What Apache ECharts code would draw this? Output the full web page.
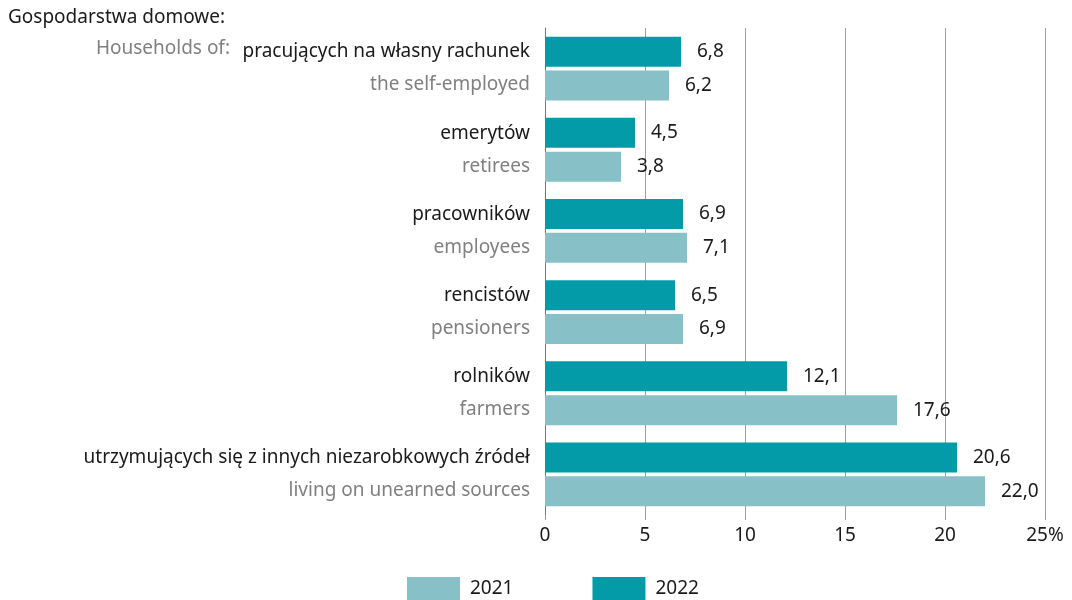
<!DOCTYPE html>
<html>
<head>
<meta charset="utf-8">
<script src="https://cdn.jsdelivr.net/npm/echarts@6/dist/echarts.min.js"></script>
<style>
  html, body { margin: 0; padding: 0; background: #fff; }
  #main { width: 1072px; height: 600px; }
</style>
</head>
<body>
<div id="main"></div>
<script>
const labelsPl = ['pracujących na własny rachunek', 'emerytów', 'pracowników', 'rencistów', 'rolników', 'utrzymujących się z innych niezarobkowych źródeł'];
const labelsEn = ['the self-employed', 'retirees', 'employees', 'pensioners', 'farmers', 'living on unearned sources'];
const values2022 = [6.8, 4.5, 6.9, 6.5, 12.1, 20.6];
const values2021 = [6.2, 3.8, 7.1, 6.9, 17.6, 22.0];
const xTicks = [0, 5, 10, 15, 20, 25];

const FONT = 'Noto Sans';
const FS = 19;
const chart = echarts.init(document.getElementById('main'));

const valueLabel = {
    show: true,
    position: 'right',
    distance: 16,
    color: '#1a1a1a',
    fontSize: FS,
    fontFamily: FONT,
    formatter: p => p.value.toFixed(1).replace('.', ',')
};

const option = {
    animation: false,
    textStyle: { fontFamily: FONT },
    graphic: [
        { type: 'text', left: 8, top: 8, style: { text: 'Gospodarstwa domowe:', fill: '#1a1a1a', font: FS + 'px "Noto Sans"' } },
        { type: 'text', right: 842, top: 39, style: { text: 'Households of:', fill: '#808080', font: FS + 'px "Noto Sans"' } }
    ],
    legend: {
        data: ['2021', '2022'],
        left: 407,
        top: 577,
        padding: 0,
        itemWidth: 53,
        itemHeight: 23,
        itemGap: 79,
        icon: 'rect',
        textStyle: { color: '#1a1a1a', fontSize: FS, padding: [0, 0, 0, 5] }
    },
    grid: { left: 545, right: 27, top: 28, bottom: 85 },
    xAxis: {
        type: 'value',
        min: 0,
        max: 25,
        interval: 5,
        axisLine: { show: false },
        axisTick: { show: true, length: 5, lineStyle: { color: '#999' } },
        axisLabel: {
            color: '#1a1a1a',
            fontSize: FS,
            margin: 11,
            formatter: v => xTicks.includes(v) ? (v === 25 ? '25%' : String(v)) : ''
        },
        splitLine: { show: true, lineStyle: { color: '#a0a0a0', width: 1 } }
    },
    yAxis: {
        type: 'category',
        inverse: true,
        data: labelsPl.map((p, i) => p + '\n' + labelsEn[i]),
        axisLine: { show: true, lineStyle: { color: '#777', width: 1 } },
        axisTick: { show: false },
        axisLabel: {
            margin: 15,
            formatter: v => {
                const parts = v.split('\n');
                return '{a|' + parts[0] + '}\n{b|' + parts[1] + '}';
            },
            rich: {
                a: { color: '#1a1a1a', fontSize: FS, lineHeight: 33, align: 'right', fontFamily: FONT },
                b: { color: '#808080', fontSize: FS, lineHeight: 33, align: 'right', fontFamily: FONT }
            }
        }
    },
    series: [
        {
            name: '2022',
            type: 'bar',
            data: values2022,
            barWidth: 30,
            barGap: '13%',
            itemStyle: { color: '#039ba8' },
            label: valueLabel
        },
        {
            name: '2021',
            type: 'bar',
            data: values2021,
            barWidth: 30,
            barGap: '13%',
            itemStyle: { color: '#87c0c7' },
            label: valueLabel
        }
    ]
};

chart.setOption(option);
window.addEventListener('resize', () => chart.resize());
</script>
</body>
</html>
